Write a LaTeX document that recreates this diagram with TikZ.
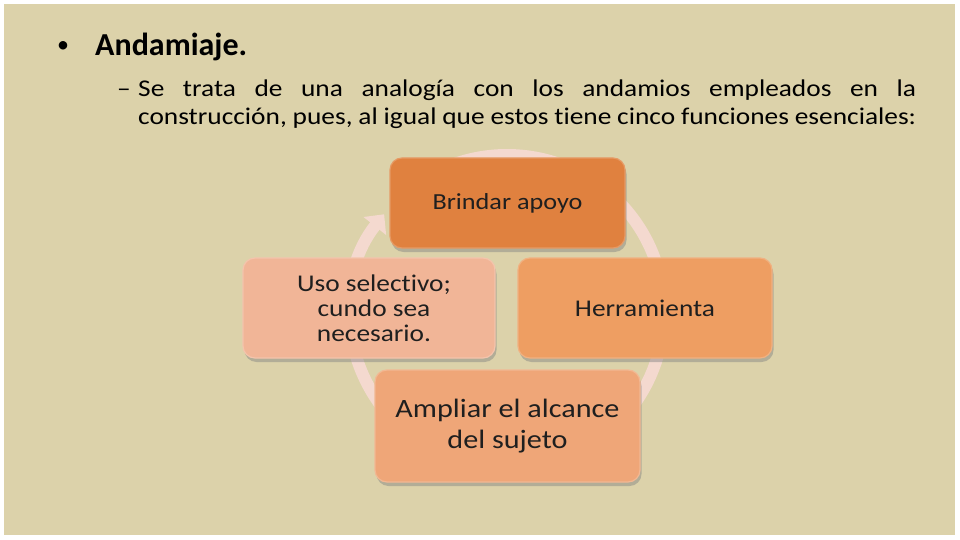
\documentclass[tikz,border=0pt]{standalone}
\usepackage{fontspec}
\setmainfont{Carlito}[Ligatures=NoCommon]
\newfontfamily\slidewide{Carlito}[Ligatures=NoCommon,FakeStretch=1.14]
\usepackage{tikz}
\usetikzlibrary{
	arrows.meta,
	shadows
}

\definecolor{slidebg}{HTML}{DCD2AA}
\definecolor{ringpink}{HTML}{F4D9CF}
\definecolor{brindarc}{HTML}{E0813F}
\definecolor{herramc}{HTML}{EE9E62}
\definecolor{ampliarc}{HTML}{EFA678}
\definecolor{usoc}{HTML}{F1B597}

\tikzset{
	phase/.style={
		rounded corners=12pt, align=center, text=black!88, inner sep=3pt,
		line width=1.2pt,
		drop shadow={shadow xshift=1.5pt,shadow yshift=-4pt,opacity=.45}
	},
	ring/.style={
		ringpink, line width=12pt,
		-{Triangle[width=28pt,length=15pt]}
	}
}

\begin{document}
\begin{tikzpicture}[x=1pt,y=-1pt]
		\fill[white] (0,0) rectangle (960,540);
		\fill[slidebg] (4,4) rectangle (955,535);
		\useasboundingbox (0,0) rectangle (960,540);

		\node[anchor=base west,inner sep=0,font=\fontsize{24}{28}\selectfont] (bullet) at (57,53) {•};
		\node[anchor=base west,inner sep=0,font=\fontsize{32}{38}\selectfont\bfseries] (title) at (95,56) {Andamiaje.};
		\node[anchor=base west,inner sep=0,font=\fontsize{24}{29}\slidewide] (dash) at (117,97) {–};
		% base of a two-line node is its last line
		\node[anchor=base west,inner sep=0,align=left,
			font=\fontsize{24}{28}\slidewide] (body) at (138,125)
			{\makebox[778pt][s]{Se trata de una analogía con los andamios empleados en la}\\
			\makebox[778pt][s]{construcción, pues, al igual que estos tiene cinco funciones esenciales:}};

		\coordinate (cyc) at (507,312);
		\draw[ring] (cyc) ++(230:157) arc[start angle=230, end angle=578.5, radius=157];

		\draw
			node[phase,fill=brindarc,draw=brindarc!80!white,minimum width=235pt,minimum height=90pt,
				font=\fontsize{23}{27}\slidewide] (brindar) at (507.5,203) {Brindar apoyo}
			node[phase,fill=herramc,draw=herramc!80!white,minimum width=254pt,minimum height=100pt,
				font=\fontsize{24}{28}\slidewide] (herram) at (645,308) {Herramienta}
			node[phase,fill=ampliarc,draw=ampliarc!80!white,minimum width=265pt,minimum height=112pt,
				font=\fontsize{26.5}{31}\slidewide] (ampliar) at (507.5,426) {Ampliar el alcance\\del sujeto}
			node[phase,fill=usoc,draw=usoc!80!white,minimum width=252pt,minimum height=100pt,
				font=\fontsize{24}{25}\slidewide] (uso) at (369,308) {\hspace*{10pt}Uso selectivo;\\\hspace*{10pt}cundo sea\\\hspace*{10pt}necesario.}
		;
	\end{tikzpicture}
\end{document}
